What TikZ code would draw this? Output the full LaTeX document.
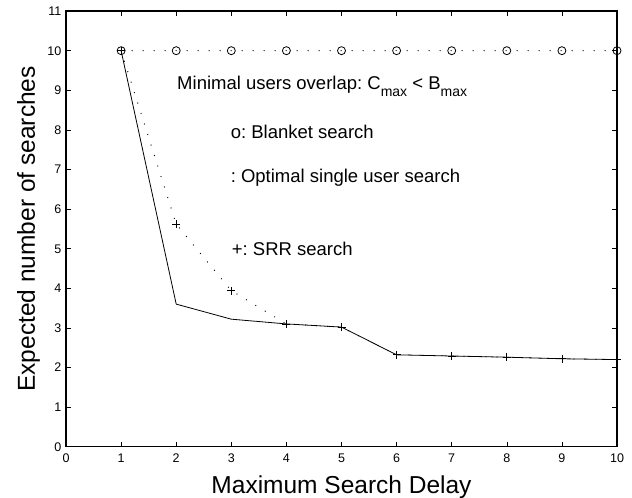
\documentclass[tikz,border=0pt]{standalone}
\usepackage{fontspec}
\setmainfont{Liberation Sans}
\usetikzlibrary{positioning}
\definecolor{inkc}{HTML}{000000}
\tikzset{
  frame/.style={line width=1.6pt,inkc},
  tck/.style={line width=0.6pt,inkc},
  crv/.style={line width=0.8pt,inkc},
  dotc/.style={line width=1.3pt,line cap=round,dash pattern=on 0pt off 11pt,inkc},
  mk/.style={line width=0.8pt,inkc},
  ticklab/.style={font=\fontsize{12.5}{13}\selectfont,inner sep=0pt},
  legtxt/.style={font=\fontsize{18.5}{20}\selectfont,anchor=base west,inner sep=0pt},
  axlab/.style={font=\fontsize{24.5}{26}\selectfont,anchor=base,inner sep=0pt}
}
\newcommand{\lowtxt}[1]{\raisebox{-0.4em}{\fontsize{14}{14}\selectfont #1}}
\frenchspacing

\begin{document}
\begin{tikzpicture}[x=55.1pt,y=39.6pt]
\useasboundingbox (-1.198,-1.295) rectangle (10.272,11.28);
% blanket search
\draw[dotc] (1,10) -- (10,10);
\foreach \x in {1,...,10} \draw[mk] (\x,10) circle (4pt);
% optimal single user search
\draw[crv] (1,10) -- (2,3.60) -- (3,3.22) -- (4,3.10) -- (5,3.02) -- (6,2.32)
  -- (7,2.29) -- (8,2.26) -- (9,2.22) -- (10,2.20);
% SRR search
\draw[dotc] plot coordinates {(1,10) (2,5.62) (3,3.94) (4,3.10) (5,3.02) (6,2.32)
  (7,2.29) (8,2.26) (9,2.22) (10,2.20)};
\foreach \x/\y in {1/10,2/5.62,3/3.94,4/3.10,5/3.02,6/2.32,7/2.29,8/2.26,9/2.22,10/2.20}
  \draw[mk] (\x,\y) +(-4pt,0) -- +(4pt,0) +(0,-4pt) -- +(0,4pt);
% axes
\draw[frame] (0,0) rectangle (10,11);
\foreach \x in {0,...,10}{
  \draw[tck] (\x,0) -- ++(0,5pt) (\x,11) -- ++(0,-5pt);
  \node[ticklab,anchor=base] (xt\x) at (\x,-0.404) {\x};
}
\foreach \y in {0,...,11}{
  \draw[tck] (0,\y) -- ++(5pt,0) (10,\y) -- ++(-5pt,0);
  \node[ticklab,anchor=base east] (yt\y) at (-0.08,\y-0.11) {\y};
}
% legend texts
\node[legtxt] (ttl) at (2.015,9.025) {Minimal users overlap: C\lowtxt{max} < B\lowtxt{max}};
\node[legtxt] (blk) at (2.987,7.787) {o: Blanket search};
\node[legtxt] (opt) at (2.987,6.67) {: Optimal single user search};
\node[legtxt] (srr) at (3.006,4.84) {+: SRR search};
% axis labels
\node[axlab] (xlab) at (5,-1.177) {Maximum Search Delay};
\node[axlab,rotate=90] (ylab) at (-0.563,5.5) {Expected number of searches};
\end{tikzpicture}
\end{document}
